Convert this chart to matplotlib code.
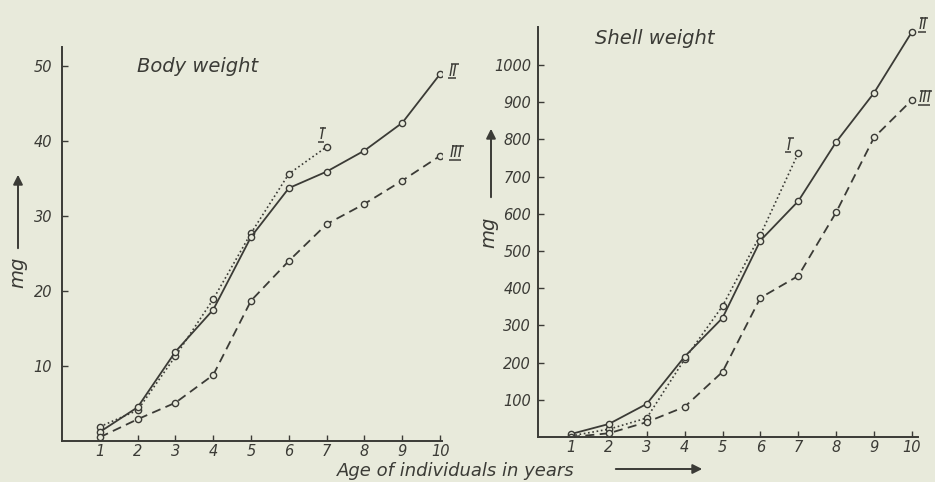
import matplotlib.pyplot as plt
from matplotlib.patches import FancyArrowPatch
from matplotlib.transforms import offset_copy
import numpy as np

# ages (years)
age = np.arange(1, 11)

# body weight, mg
body_I = [1.9, 4.1, 11.3, 18.9, 27.7, 35.6, 39.2]
body_II = [1.2, 4.5, 11.9, 17.5, 27.2, 33.7, 35.9, 38.7, 42.4, 48.9]
body_III = [0.5, 2.9, 5.1, 8.8, 18.7, 24.0, 28.9, 31.6, 34.7, 38.0]

# shell weight, mg
shell_I = [3, 21, 51, 209, 352, 543, 763]
shell_II = [8, 35, 89, 216, 320, 528, 634, 793, 925, 1089]
shell_III = [0, 10, 40, 81, 175, 374, 433, 604, 805, 906]

labels = ["I", "II", "III"]

paper = "#e8eadb"
ink = "#3b3b36"

W, H = 935, 482
fig = plt.figure(figsize=(W / 100, H / 100), dpi=100, facecolor=paper)


def px_axes(left, top, right, bottom):
    # pixel box (from top-left) -> figure fraction axes
    return fig.add_axes([left / W, 1 - bottom / H, (right - left) / W, (bottom - top) / H])


def style(ax, ypad):
    ax.set_facecolor("none")
    for s in ["top", "right"]:
        ax.spines[s].set_visible(False)
    for s in ["left", "bottom"]:
        ax.spines[s].set_color(ink)
        ax.spines[s].set_linewidth(1.4)
    ax.tick_params(colors=ink, direction="in", length=4, width=1.0,
                   labelsize=10.5)
    ax.tick_params(axis="x", pad=2)
    ax.tick_params(axis="y", pad=ypad)
    for t in ax.get_xticklabels() + ax.get_yticklabels():
        t.set_fontstyle("italic")
        t.set_color(ink)


def curves(ax, I, II, III):
    mk = dict(marker="o", ms=4.5, mfc=paper, mec=ink, mew=1.0, color=ink)
    ax.plot(age[:len(I)], I, ls=(0, (1, 1.6)), lw=1.2, **mk)
    ax.plot(age, II, ls="-", lw=1.3, **mk)
    ax.plot(age, III, ls=(0, (5, 3)), lw=1.3, **mk)


def numeral(ax, x, y, txt, dx, dy):
    # roman numeral with a bar above and below
    ax.annotate(txt, (x, y), xytext=(dx, dy), textcoords="offset pixels",
                ha="center", va="center", fontsize=10.5, fontstyle="italic",
                color=ink)
    w = 1.5 + 2.4 * len(txt)
    for off, sh in ((7, 1.5), (-7, -1)):
        tr = offset_copy(ax.transData, fig=fig, x=dx + sh, y=dy + off, units="dots")
        ax.plot([x], [y], marker="_", ms=w, mew=1.1, color=ink,
                transform=tr, clip_on=False)


# left panel: body weight
ax1 = px_axes(62, 47, 442, 441)
curves(ax1, body_I, body_II, body_III)
ax1.set_xlim(0, 10.05)
ax1.set_ylim(0, 52.5)
ax1.set_xticks(age)
ax1.set_yticks([10, 20, 30, 40, 50])
style(ax1, 7)
numeral(ax1, 7, body_I[-1], labels[0], -5, 12)
numeral(ax1, 10, body_II[-1], labels[1], 13, 3)
numeral(ax1, 10, body_III[-1], labels[2], 16, 3)
ax1.text(137, H - 66, "Body weight", transform=None, fontsize=14,
         fontstyle="italic", color=ink, va="center")

# right panel: shell weight
ax2 = px_axes(538, 27, 918, 437)
curves(ax2, shell_I, shell_II, shell_III)
ax2.set_xlim(0.13, 10.16)
ax2.set_ylim(0, 1102)
ax2.set_xticks(age)
ax2.set_yticks(np.arange(100, 1001, 100))
style(ax2, 5)
numeral(ax2, 7, shell_I[-1], labels[0], -9, 8)
numeral(ax2, 10, shell_II[-1], labels[1], 11, 7)
numeral(ax2, 10, shell_III[-1], labels[2], 13, 2)
ax2.text(595, H - 38, "Shell weight", transform=None, fontsize=14,
         fontstyle="italic", color=ink, va="center")


# axis labels with arrows (pixel positions from top-left)
def arrow(x0, y0, x1, y1):
    fig.add_artist(FancyArrowPatch(
        (x0, H - y0), (x1, H - y1), transform=None, arrowstyle="-|>",
        mutation_scale=14, lw=1.4, color=ink))


arrow(18, 251, 18, 172)
fig.text(18 / W, 1 - 272 / H, "mg", rotation=90, fontsize=14,
         fontstyle="italic", color=ink, ha="center", va="center")
arrow(491, 200, 491, 126)
fig.text(489 / W, 1 - 232 / H, "mg", rotation=90, fontsize=14,
         fontstyle="italic", color=ink, ha="center", va="center")

fig.text(456 / W, 1 - 471 / H, "Age of individuals in years", fontsize=13,
         fontstyle="italic", color=ink, ha="center", va="center")
arrow(613, 469, 705, 469)

fig.savefig("out.png", dpi=100, facecolor=paper)
